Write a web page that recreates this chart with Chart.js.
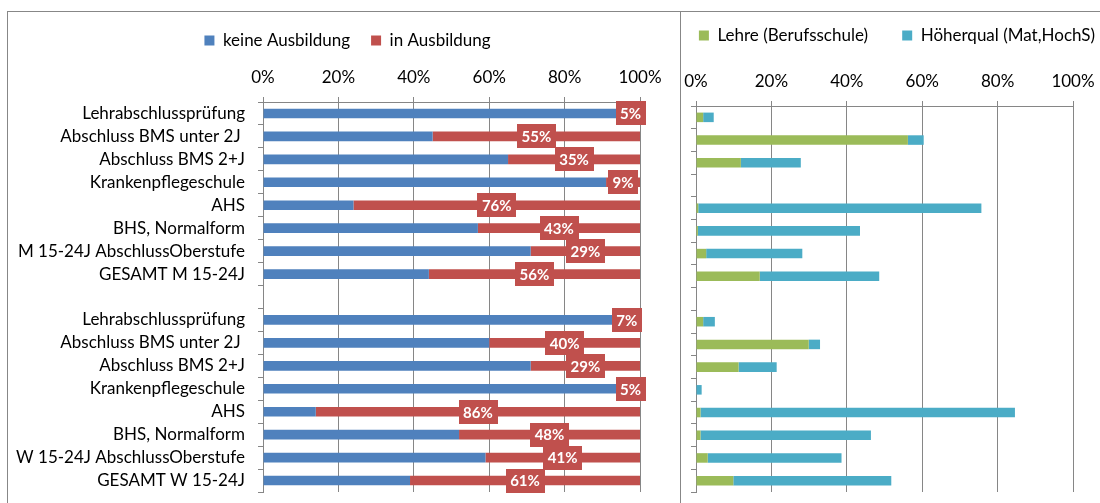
<!DOCTYPE html>
<html>
<head>
<meta charset="utf-8">
<script src="https://cdn.jsdelivr.net/npm/chart.js@4.4.1/dist/chart.umd.min.js"></script>
<style>
  html, body { margin: 0; padding: 0; background: #fff; overflow: hidden; }
  #frame { position: absolute; left: 7px; top: 11px; width: 1200px; height: 600px;
           border-top: 1px solid #878787; border-left: 1px solid #878787; }
  #left { position: absolute; left: 8px; top: 12px; }
  #right { position: absolute; left: 682px; top: 12px; }
  #divider { position: absolute; left: 680px; top: 12px; width: 1px; height: 491px; background: #878787; }
</style>
</head>
<body>
<div id="frame"></div>
<div id="divider"></div>
<canvas id="left" width="673" height="491"></canvas>
<canvas id="right" width="418" height="491"></canvas>
<script>
// ---- data ----
const categories = [
  "Lehrabschlussprüfung", "Abschluss BMS unter 2J ", "Abschluss BMS 2+J", "Krankenpflegeschule",
  "AHS", "BHS, Normalform", "M 15-24J AbschlussOberstufe", "GESAMT M 15-24J",
  "",
  "Lehrabschlussprüfung", "Abschluss BMS unter 2J ", "Abschluss BMS 2+J", "Krankenpflegeschule",
  "AHS", "BHS, Normalform", "W 15-24J AbschlussOberstufe", "GESAMT W 15-24J"
];
const keineAusbildung = [95, 45, 65, 91, 24, 57, 71, 44, null, 93, 60, 71, 95, 14, 52, 59, 39];
const inAusbildung    = [5, 55, 35, 9, 76, 43, 29, 56, null, 7, 40, 29, 5, 86, 48, 41, 61];
const lehre      = [1.9, 56.2, 11.9, 0, 0.6, 0.5, 2.7, 16.9, null, 1.9, 29.9, 11.3, 0, 1.2, 1.2, 3.1, 9.9];
const hoeherqual = [2.8, 4.2, 15.9, 0, 75.1, 43.0, 25.5, 31.7, null, 3.1, 3.0, 10.1, 1.5, 83.4, 45.2, 35.5, 41.9];
const xTicks = [0, 20, 40, 60, 80, 100];
const seriesNamesLeft = ["keine Ausbildung", "in Ausbildung"];
const seriesNamesRight = ["Lehre (Berufsschule)", "Höherqual (Mat,HochS)"];

const FONT = "Lato";
const FS = 17;
const GRID = "#868686";
Chart.defaults.font.family = FONT;
Chart.defaults.color = "#000";

const labelPlugin = {
  id: "redLabels",
  afterDatasetsDraw(chart) {
    const meta = chart.getDatasetMeta(1);
    const ctx = chart.ctx;
    ctx.save();
    ctx.font = "bold 15px " + FONT;
    ctx.textAlign = "center";
    ctx.textBaseline = "middle";
    meta.data.forEach((el, i) => {
      const v = inAusbildung[i];
      if (v === null || v === undefined) return;
      const txt = v + "%";
      const cx = (el.x + el.base) / 2;
      const cy = el.y;
      const w = ctx.measureText(txt).width + 9;
      const h = 24;
      ctx.fillStyle = "#C0504D";
      ctx.fillRect(Math.round(cx - w / 2), Math.round(cy - h / 2), Math.round(w), h);
      ctx.fillStyle = "#fff";
      ctx.fillText(txt, cx, cy + 1);
    });
    ctx.restore();
  }
};

function legendShift(dx) {
  return {
    id: "legendShift",
    afterLayout(chart) {
      if (chart.legend) { chart.legend.left += dx; chart.legend.right += dx; }
    }
  };
}

function makeOptions(yWidth, rightWidth, topPad, xHeight, gapSpaces) {
  return {
    indexAxis: "y",
    responsive: false,
    animation: false,
    layout: { padding: { top: topPad, right: 0, bottom: 11, left: 0 } },
    plugins: {
      legend: {
        position: "top",
        labels: {
          boxWidth: 10, boxHeight: 10, padding: 8, font: { size: FS }, color: "#000",
          generateLabels(chart) {
            const items = Chart.defaults.plugins.legend.labels.generateLabels(chart);
            return items.map((it, i) => Object.assign(it, {
              text: i === 0 ? it.text + " ".repeat(gapSpaces) : it.text
            }));
          }
        }
      },
      tooltip: { enabled: false }
    },
    scales: {
      x: {
        position: "top",
        stacked: true,
        min: 0, max: 100,
        afterBuildTicks(scale) { scale.ticks = xTicks.map(v => ({ value: v })); },
        ticks: { callback: v => v + "%", font: { size: FS }, color: "#000", padding: 9, maxRotation: 0 },
        grid: { color: GRID, lineWidth: 1, tickLength: 5, drawTicks: true },
        border: { color: GRID, width: 1 },
        afterFit(scale) { scale.height = xHeight; scale.paddingLeft = 0; scale.paddingRight = 0; }
      },
      y: {
        stacked: true,
        ticks: { font: { size: FS }, color: "#000", padding: 13, autoSkip: false },
        grid: { drawOnChartArea: false, drawTicks: true, tickLength: 5, color: GRID, offset: true },
        border: { color: GRID, width: 1 },
        afterFit(scale) { scale.width = yWidth; scale.paddingTop = 0; scale.paddingBottom = 0; }
      },
      yR: {
        type: "category",
        position: "right",
        grid: { display: false },
        border: { display: false },
        ticks: { display: false },
        afterFit(scale) { scale.width = rightWidth; scale.paddingTop = 0; scale.paddingBottom = 0; }
      }
    }
  };
}

new Chart(document.getElementById("left"), {
  type: "bar",
  data: {
    labels: categories,
    datasets: [
      { label: seriesNamesLeft[0], data: keineAusbildung, backgroundColor: "#4F81BD",
        barPercentage: 0.42, categoryPercentage: 1 },
      { label: seriesNamesLeft[1], data: inAusbildung, backgroundColor: "#C0504D",
        barPercentage: 0.42, categoryPercentage: 1 }
    ]
  },
  options: makeOptions(255, 41, 12, 43, 3),
  plugins: [labelPlugin, legendShift(3)]
});

const rightOpts = makeOptions(14, 27, 7, 52, 6);
rightOpts.scales.y.ticks.callback = () => "";
new Chart(document.getElementById("right"), {
  type: "bar",
  data: {
    labels: categories,
    datasets: [
      { label: seriesNamesRight[0], data: lehre, backgroundColor: "#9BBB59",
        barPercentage: 0.42, categoryPercentage: 1 },
      { label: seriesNamesRight[1], data: hoeherqual, backgroundColor: "#4BACC6",
        barPercentage: 0.42, categoryPercentage: 1 }
    ]
  },
  options: rightOpts,
  plugins: [legendShift(6)]
});
</script>
</body>
</html>
